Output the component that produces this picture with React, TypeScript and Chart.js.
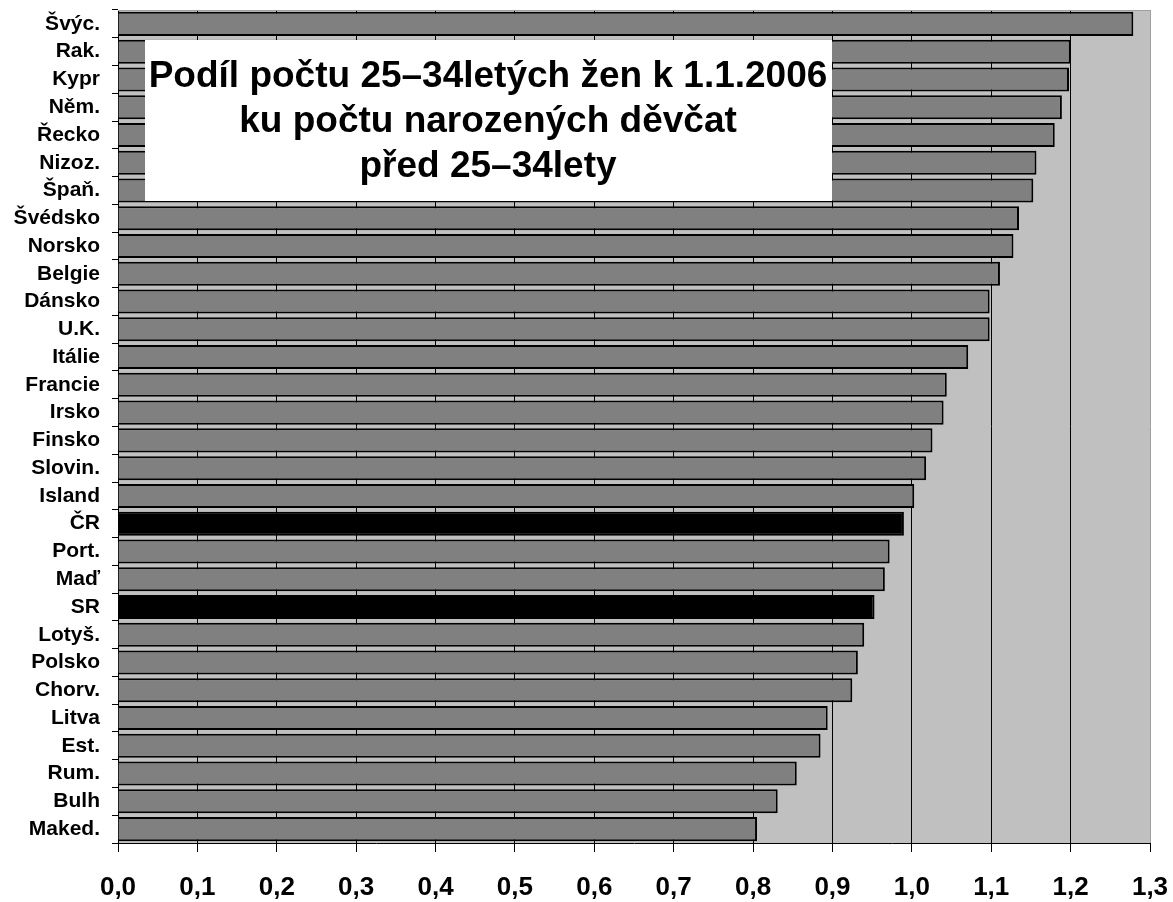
import React, { useEffect, useRef } from "react";
import { Chart, registerables } from "chart.js";

Chart.register(...registerables);

const categories = [
  "Švýc.", "Rak.", "Kypr", "Něm.", "Řecko", "Nizoz.", "Špaň.", "Švédsko", "Norsko", "Belgie",
  "Dánsko", "U.K.", "Itálie", "Francie", "Irsko", "Finsko", "Slovin.", "Island", "ČR", "Port.",
  "Maď", "SR", "Lotyš.", "Polsko", "Chorv.", "Litva", "Est.", "Rum.", "Bulh", "Maked.",
];

const values = [
  1.279, 1.200, 1.198, 1.189, 1.180, 1.157, 1.153, 1.135, 1.128, 1.111,
  1.098, 1.098, 1.071, 1.044, 1.040, 1.026, 1.018, 1.003, 0.990, 0.972,
  0.966, 0.953, 0.940, 0.932, 0.925, 0.894, 0.885, 0.855, 0.831, 0.805,
];

const highlighted = ["ČR", "SR"];

const titleLines = [
  "Podíl počtu 25–34letých žen k 1.1.2006",
  "ku počtu narozených děvčat",
  "před 25–34lety",
];

const FONT = "'Liberation Sans', Arial, sans-serif";

function zeroPadding(scale: any) {
  scale.paddingTop = 0;
  scale.paddingBottom = 0;
  scale.paddingLeft = 0;
  scale.paddingRight = 0;
}

export default function App() {
  const ref = useRef<HTMLCanvasElement | null>(null);

  useEffect(() => {
    document.body.style.margin = "0";
    const canvas = ref.current;
    if (!canvas) return;

    const bgPlugin = {
      id: "plotBg",
      beforeDraw(chart: any) {
        const { ctx, chartArea } = chart;
        ctx.save();
        ctx.fillStyle = "#c0c0c0";
        ctx.fillRect(chartArea.left, chartArea.top, chartArea.right - chartArea.left, chartArea.bottom - chartArea.top);
        ctx.restore();
      },
      afterDraw(chart: any) {
        const { ctx, chartArea } = chart;
        ctx.save();
        ctx.strokeStyle = "#a0a0a0";
        ctx.lineWidth = 1;
        ctx.beginPath();
        ctx.moveTo(chartArea.left, chartArea.top + 0.5);
        ctx.lineTo(chartArea.right, chartArea.top + 0.5);
        ctx.stroke();
        ctx.restore();
      },
    };

    const titlePlugin = {
      id: "titleBox",
      afterDatasetsDraw(chart: any) {
        const { ctx } = chart;
        ctx.save();
        ctx.fillStyle = "#ffffff";
        ctx.fillRect(145, 40, 687, 161);
        ctx.fillStyle = "#000000";
        ctx.font = `bold 37px ${FONT}`;
        ctx.textAlign = "center";
        ctx.textBaseline = "alphabetic";
        const baselines = [87, 132, 177];
        titleLines.forEach((t, i) => ctx.fillText(t, 488, baselines[i]));
        ctx.restore();
      },
    };

    const chart = new Chart(canvas, {
      type: "bar",
      data: {
        labels: categories,
        datasets: [
          {
            data: values,
            backgroundColor: categories.map((c) => (highlighted.includes(c) ? "#000000" : "#808080")),
            borderColor: "#000000",
            borderWidth: 2,
            barPercentage: 0.865,
            categoryPercentage: 1,
          },
        ],
      },
      options: {
        indexAxis: "y",
        animation: false,
        responsive: false,
        maintainAspectRatio: false,
        layout: { padding: { top: 10, right: 23, left: 0, bottom: 0 } },
        plugins: {
          legend: { display: false },
          tooltip: { enabled: false },
          title: { display: false },
        },
        scales: {
          x: {
            min: 0,
            max: 1.3,
            afterFit(scale: any) {
              scale.height = 59;
              zeroPadding(scale);
            },
            ticks: {
              stepSize: 0.1,
              color: "#000000",
              padding: 20,
              maxRotation: 0,
              autoSkip: false,
              font: { family: FONT, size: 26, weight: "bold" },
              callback: (v: any) => Number(v).toFixed(1).replace(".", ","),
            },
            grid: {
              display: true,
              drawOnChartArea: true,
              drawTicks: true,
              tickLength: 9,
              lineWidth: 1,
              color: (ctx: any) => (ctx.index === 13 ? "#a0a0a0" : "#000000"),
              tickColor: "#000000",
            },
            border: { display: true, color: "#000000", width: 1 },
          },
          y: {
            afterFit(scale: any) {
              scale.width = 118;
              zeroPadding(scale);
            },
            ticks: {
              color: "#000000",
              padding: 12,
              autoSkip: false,
              font: { family: FONT, size: 21, weight: "bold" },
            },
            grid: {
              display: true,
              offset: true,
              drawOnChartArea: false,
              drawTicks: true,
              tickLength: 6,
              color: "#000000",
            },
            border: { display: true, color: "#000000", width: 1 },
          },
        },
      },
      plugins: [bgPlugin, titlePlugin],
    });

    return () => chart.destroy();
  }, []);

  return (
    <div style={{ width: 1173, height: 902, background: "#ffffff" }}>
      <canvas ref={ref} width={1173} height={902} style={{ display: "block", width: 1173, height: 902 }} />
    </div>
  );
}
